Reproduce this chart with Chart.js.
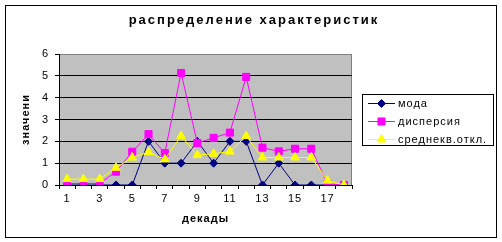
<!DOCTYPE html>
<html><head><meta charset="utf-8">
<script src="https://cdn.jsdelivr.net/npm/chart.js@4/dist/chart.umd.min.js"></script>
<style>html,body{margin:0;padding:0;background:#fff;overflow:hidden}canvas{display:block}</style>
</head><body><canvas id="c" width="502" height="242"></canvas>
<script>
const decades = ['1','2','3','4','5','6','7','8','9','10','11','12','13','14','15','16','17','18'];
const moda = [0,0,0,0,0,2,1,1,2,1,2,2,0,1,0,0,0,0];
const dispersion = [0.07,0.07,0.07,0.61,1.52,2.33,1.46,5.13,1.92,2.16,2.4,4.95,1.71,1.54,1.66,1.66,0.05,0.0];
const stdDev = [0.27,0.27,0.27,0.79,1.26,1.51,1.17,2.24,1.37,1.43,1.53,2.24,1.26,1.26,1.26,1.26,0.2,0.0];
const seriesNames = ['мода','дисперсия','среднекв.откл.'];
const chartTitle = 'распределение характеристик';
const xTitle = 'декады';
const yTitle = 'значени';

const FONT = '"Liberation Sans", Arial, sans-serif';

const framePlugin = {
  id: 'frame',
  beforeDraw(chart) {
    const ctx = chart.ctx;
    ctx.save();
    ctx.fillStyle = '#fff';
    ctx.fillRect(0, 0, chart.width, chart.height);
    const a = chart.chartArea;
    ctx.fillStyle = '#c0c0c0';
    ctx.fillRect(a.left, a.top, a.right - a.left, a.bottom - a.top);
    ctx.strokeStyle = '#808080';
    ctx.lineWidth = 1;
    ctx.strokeRect(a.left + 0.5, a.top + 0.5, a.right - a.left - 1, a.bottom - a.top);
    ctx.restore();
    ctx.letterSpacing = '1px';
  },
  afterDraw(chart) {
    const ctx = chart.ctx;
    ctx.save();
    ctx.strokeStyle = '#000';
    ctx.lineWidth = 1;
    ctx.strokeRect(5.5, 5.5, 491, 232);
    ctx.fillStyle = '#000';
    ctx.font = 'bold 13px ' + FONT;
    ctx.letterSpacing = '2px';
    ctx.textAlign = 'center';
    ctx.textBaseline = 'middle';
    ctx.fillText(chartTitle, 254, 20);
    ctx.letterSpacing = '1px';
    ctx.fillStyle = '#fff';
    ctx.fillRect(362, 94, 131, 51);
    ctx.strokeRect(362.5, 94.5, 131, 51);
    ctx.font = '11px ' + FONT;
    ctx.textAlign = 'left';
    chart.data.datasets.forEach((ds, i) => {
      const y = 103 + 18 * i;
      ctx.strokeStyle = ds.borderColor;
      ctx.lineWidth = 1;
      ctx.beginPath();
      ctx.moveTo(368, y + 0.5);
      ctx.lineTo(395, y + 0.5);
      ctx.stroke();
      ctx.fillStyle = ds.pointBackgroundColor;
      ctx.strokeStyle = ds.pointBorderColor;
      Chart.helpers.drawPoint(ctx, {pointStyle: ds.pointStyle, radius: ds.pointRadius, rotation: 0, borderWidth: 1}, 381.5, y + 0.5);
      ctx.fillStyle = '#000';
      ctx.fillText(ds.label, 398, y + 1);
    });
    ctx.restore();
  }
};

new Chart(document.getElementById('c'), {
  type: 'line',
  data: {
    labels: decades,
    datasets: [
      {label: seriesNames[0], data: moda, borderColor: '#000080', backgroundColor: '#000080',
       pointBackgroundColor: '#000080', pointBorderColor: '#000080', pointStyle: 'rectRot', pointRadius: 4,
       borderWidth: 1, order: 3},
      {label: seriesNames[1], data: dispersion, borderColor: '#ff00ff', backgroundColor: '#ff00ff',
       pointBackgroundColor: '#ff00ff', pointBorderColor: '#ff00ff', pointStyle: 'rect', pointRadius: 5,
       borderWidth: 1, order: 2},
      {label: seriesNames[2], data: stdDev, borderColor: '#ffff00', backgroundColor: '#ffff00',
       pointBackgroundColor: '#ffff00', pointBorderColor: '#ffff00', pointStyle: 'triangle', pointRadius: 5,
       borderWidth: 1, order: 1}
    ]
  },
  options: {
    responsive: false,
    animation: false,
    layout: {padding: {left: 0, top: 54, right: 150, bottom: 5}},
    plugins: {legend: {display: false}, title: {display: false}, tooltip: {enabled: false}},
    elements: {line: {tension: 0}},
    scales: {
      x: {
        offset: true,
        afterFit(s) { s.height = 52; },
        border: {display: true, color: '#000', width: 1},
        grid: {display: true, offset: true, drawOnChartArea: false, drawTicks: true, tickLength: 4, color: '#000', tickColor: '#000'},
        ticks: {autoSkip: false, maxRotation: 0, padding: 3, color: '#000', font: {family: FONT, size: 11},
          callback: (v, i) => (i % 2 === 0 ? decades[i] : '')},
        title: {display: true, text: xTitle, color: '#000', font: {family: FONT, size: 11, weight: 'bold'}, padding: {top: 0, bottom: 11}}
      },
      y: {
        min: 0, max: 6,
        afterFit(s) { s.width = 59; },
        border: {display: true, color: '#000', width: 1},
        grid: {drawTicks: true, tickLength: 4, tickColor: '#000',
          color: (c) => (c.tick && c.tick.value === 6 ? 'rgba(0,0,0,0)' : '#000')},
        ticks: {stepSize: 1, padding: 6, color: '#000', font: {family: FONT, size: 11}},
        title: {display: true, text: yTitle, color: '#000', font: {family: FONT, size: 11, weight: 'bold'}, padding: {top: 19, bottom: 0}}
      }
    }
  },
  plugins: [framePlugin]
});
</script>
</body></html>
